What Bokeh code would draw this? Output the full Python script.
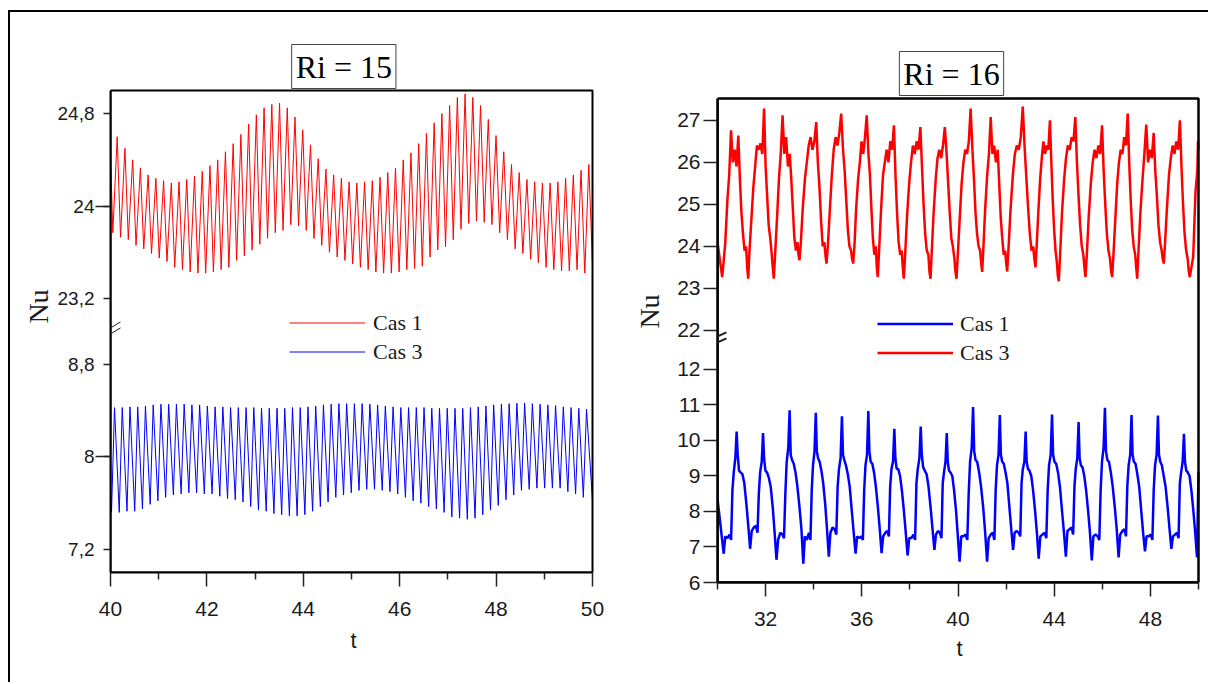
import numpy as np
from bokeh.plotting import figure
from bokeh.models import FixedTicker, Label, Legend, LegendItem, Arrow, Range1d, BoxAnnotation
from bokeh.layouts import row
from bokeh.embed import file_html
from bokeh.resources import INLINE

# ======================= DATA : Ri = 15 =======================
RI15_T_RANGE = (40, 50)
RI15_X_TICKS = [40, 42, 44, 46, 48, 50]
RI15_X_MINOR = [41, 43, 45, 47, 49]
RI15_Y_TICKS = [24.8, 24, 23.2, 8.8, 8, 7.2]
RI15_Y_LABELS = ["24,8", "24", "23,2", "8,8", "8", "7,2"]
RI15_Y_LONG = [24, 8]
RI15_LOW = (7.0, 9.09)      # visible lower segment
RI15_HIGH = (22.92, 25.0)   # visible upper segment

# Cas 1 (red): successive maxima / minima of the oscillation
ri15_cas1_peak_t = (40.139, 49.923)
ri15_cas1_peaks = [
    24.60, 24.50, 24.40, 24.33, 24.27, 24.24, 24.22, 24.20, 24.21, 24.23,
    24.26, 24.30, 24.35, 24.40, 24.47, 24.54, 24.62, 24.71, 24.79, 24.85,
    24.88, 24.89, 24.85, 24.77, 24.66, 24.53, 24.41, 24.32, 24.27, 24.24,
    24.21, 24.20, 24.21, 24.22, 24.25, 24.29, 24.33, 24.40, 24.46, 24.54,
    24.63, 24.72, 24.80, 24.87, 24.94, 24.97, 24.94, 24.87, 24.75, 24.61,
    24.47, 24.36, 24.29, 24.23, 24.21, 24.20, 24.20, 24.21, 24.24, 24.27,
    24.31, 24.36]
ri15_cas1_trough_t = (40.048, 49.840)
ri15_cas1_troughs = [
    23.77, 23.73, 23.71, 23.66, 23.63, 23.59, 23.55, 23.52, 23.47, 23.45,
    23.43, 23.42, 23.42, 23.43, 23.45, 23.47, 23.53, 23.57, 23.62, 23.67,
    23.72, 23.77, 23.79, 23.84, 23.83, 23.79, 23.72, 23.66, 23.60, 23.56,
    23.53, 23.50, 23.47, 23.45, 23.43, 23.42, 23.42, 23.43, 23.45, 23.46,
    23.48, 23.56, 23.62, 23.65, 23.71, 23.80, 23.85, 23.87, 23.86, 23.84,
    23.77, 23.71, 23.63, 23.59, 23.54, 23.51, 23.47, 23.45, 23.44, 23.44,
    23.45, 23.42]
ri15_cas1_start_end = (24.45, 23.50)

# Cas 3 (blue)
ri15_cas3_peak_t = (40.083, 49.876)
ri15_cas3_peaks = [
    8.427, 8.427, 8.433, 8.433, 8.441, 8.450, 8.456, 8.456, 8.456, 8.456,
    8.450, 8.450, 8.441, 8.433, 8.433, 8.427, 8.427, 8.427, 8.427, 8.421,
    8.421, 8.421, 8.421, 8.427, 8.427, 8.433, 8.441, 8.450, 8.456, 8.461,
    8.461, 8.461, 8.461, 8.456, 8.450, 8.441, 8.433,
    8.427, 8.427, 8.427, 8.427, 8.421, 8.421, 8.421, 8.421, 8.421, 8.427,
    8.433, 8.441, 8.450, 8.456, 8.461, 8.464, 8.467, 8.461, 8.456, 8.450,
    8.444, 8.433, 8.427, 8.421, 8.413]
ri15_cas3_trough_t = (40.021, 49.810)
ri15_cas3_troughs = [
    7.52, 7.52, 7.53, 7.53, 7.55, 7.59, 7.62, 7.65, 7.67, 7.68,
    7.69, 7.69, 7.68, 7.68, 7.66, 7.64, 7.63, 7.61, 7.57, 7.54,
    7.53, 7.51, 7.50, 7.49, 7.49, 7.50, 7.53, 7.57, 7.61, 7.65,
    7.67, 7.69, 7.71, 7.72, 7.72, 7.71, 7.70, 7.68,
    7.65, 7.62, 7.60, 7.57, 7.55, 7.52, 7.48, 7.47, 7.46, 7.47,
    7.50, 7.54, 7.58, 7.63, 7.67, 7.71, 7.72, 7.73, 7.73, 7.73,
    7.73, 7.70, 7.68, 7.65]
ri15_cas3_start_end = (7.70, 7.62)

# ======================= DATA : Ri = 16 =======================
RI16_T_RANGE = (30, 50)
RI16_X_TICKS = [32, 36, 40, 44, 48]
RI16_X_MINOR = [30, 34, 38, 42, 46, 50]
RI16_Y_TICKS = [27, 26, 25, 24, 23, 22, 12, 11, 10, 9, 8, 7, 6]
RI16_LOW = (6.0, 12.96)
RI16_HIGH = (21.88, 27.52)
RI16_HIGH_STRETCH = 42.0 / 35.5   # upper segment is drawn with a larger unit

# Cas 3 (red, upper): minima times, per-cycle values at fixed phases
ri16_cas3_head = [(30.0, 24.1)]
ri16_cas3_trough_t = [30.195, 31.277, 32.341, 33.410, 34.532, 35.642, 36.665,
                      37.747, 38.857, 39.938, 41.006, 42.046, 43.222, 44.191,
                      45.301, 46.412, 47.451, 48.557, 49.638]
ri16_cas3_phase = [0, .05, .12, .20, .27, .34, .41, .48, .55, .62, .68, .74, .80, .86, .92, .96]
ri16_cas3_cycles = [
    [23.27, 23.6, 24.1, 25.1, 25.7, 26.76, 26.0, 26.3, 25.9, 26.64, 25.6, 24.8, 24.3, 23.9, 24.0, 23.5],
    [23.23, 23.9, 24.6, 25.4, 25.9, 26.4, 26.3, 26.45, 26.2, 27.28, 25.9, 25.2, 24.5, 24.2, 23.8, 23.5],
    [23.23, 23.8, 24.6, 25.6, 26.2, 27.12, 26.2, 26.6, 25.9, 26.2, 25.6, 24.9, 24.2, 23.9, 24.1, 23.8],
    [23.67, 24.1, 24.9, 25.6, 26.0, 26.4, 26.6, 26.3, 26.5, 26.96, 26.0, 25.4, 24.6, 24.0, 24.1, 23.8],
    [23.59, 24.0, 24.8, 25.7, 26.3, 26.6, 26.4, 26.7, 27.16, 26.3, 25.8, 25.1, 24.4, 24.0, 23.9, 23.7],
    [23.59, 24.0, 24.9, 25.6, 26.0, 26.5, 26.2, 26.6, 27.12, 26.2, 25.7, 24.9, 24.2, 23.8, 24.0, 23.5],
    [23.27, 23.9, 24.8, 25.7, 26.0, 26.3, 26.0, 26.5, 26.3, 26.88, 25.7, 24.8, 24.1, 23.8, 23.9, 23.5],
    [23.23, 23.8, 24.7, 25.5, 26.0, 26.4, 26.2, 26.5, 26.3, 26.84, 25.9, 25.0, 24.3, 23.9, 23.8, 23.4],
    [23.23, 23.9, 24.8, 25.6, 26.1, 26.3, 26.1, 26.4, 26.84, 26.2, 25.5, 24.8, 24.2, 24.0, 23.7, 23.4],
    [23.23, 23.8, 24.6, 25.5, 26.0, 26.3, 26.2, 26.5, 27.28, 26.3, 25.6, 24.8, 24.3, 24.0, 23.9, 23.6],
    [23.39, 24.0, 24.9, 25.7, 26.2, 27.08, 26.2, 26.4, 26.0, 26.3, 25.5, 24.7, 24.2, 23.8, 23.9, 23.6],
    [23.40, 24.0, 24.9, 25.7, 26.2, 26.4, 26.3, 26.6, 27.33, 26.3, 25.6, 24.9, 24.3, 23.9, 24.0, 23.7],
    [23.50, 24.0, 24.8, 25.6, 26.1, 26.5, 26.2, 26.4, 26.3, 27.0, 26.0, 25.1, 24.4, 23.9, 23.6, 23.3],
    [23.17, 23.8, 24.8, 25.6, 26.1, 26.4, 26.3, 26.6, 26.5, 27.08, 26.0, 25.2, 24.5, 24.0, 23.8, 23.5],
    [23.27, 23.8, 24.7, 25.5, 26.0, 26.3, 26.1, 26.4, 26.2, 26.88, 25.8, 25.0, 24.3, 23.9, 23.7, 23.4],
    [23.27, 23.8, 24.6, 25.5, 26.0, 26.3, 26.2, 26.6, 26.4, 27.16, 26.0, 25.1, 24.4, 24.0, 23.8, 23.5],
    [23.23, 23.9, 24.8, 25.6, 26.2, 26.9, 26.0, 26.3, 26.1, 26.7, 25.8, 25.2, 24.5, 24.1, 23.9, 23.7],
    [23.59, 24.1, 24.9, 25.7, 26.1, 26.4, 26.2, 26.5, 26.3, 27.0, 25.9, 25.0, 24.3, 23.9, 23.7, 23.4],
]
ri16_cas3_last_trough = 23.27
ri16_cas3_tail = [(49.78, 23.75), (49.875, 25.3), (49.95, 25.8), (49.98, 26.5), (50.0, 26.3)]

# Cas 1 (blue, lower)
ri16_cas1_head = [(30.0, 8.36)]
ri16_cas1_trough_t = [30.258, 31.356, 32.453, 33.568, 34.628, 35.742, 36.823,
                      37.904, 39.019, 40.067, 41.210, 42.291, 43.356, 44.486,
                      45.563, 46.678, 47.775, 48.873, 49.938]
ri16_cas1_phase = [0, .06, .14, .22, .28, .33, .38, .44, .49, .53, .58, .64, .71, .78, .86, .93]
ri16_cas1_cycles = [
    [6.81, 7.30, 7.25, 7.35, 7.20, 8.6, 9.1, 9.5, 10.25, 9.6, 9.15, 9.10, 9.05, 8.8, 8.2, 7.6],
    [6.95, 7.45, 7.55, 7.60, 7.40, 8.5, 9.1, 9.4, 10.21, 9.5, 9.15, 9.10, 8.95, 8.7, 8.1, 7.4],
    [6.64, 7.20, 7.40, 7.35, 7.25, 8.5, 9.4, 9.8, 10.85, 9.6, 9.45, 9.35, 9.10, 8.7, 8.1, 7.5],
    [6.53, 7.30, 7.20, 7.40, 7.20, 8.6, 9.3, 9.7, 10.78, 9.7, 9.50, 9.40, 9.15, 8.8, 8.2, 7.5],
    [6.73, 7.40, 7.55, 7.50, 7.35, 8.7, 9.2, 9.5, 10.68, 9.6, 9.45, 9.30, 9.05, 8.7, 8.0, 7.4],
    [6.81, 7.30, 7.25, 7.30, 7.20, 8.6, 9.3, 9.6, 10.83, 9.7, 9.40, 9.35, 9.10, 8.7, 8.1, 7.5],
    [6.83, 7.30, 7.40, 7.45, 7.30, 8.7, 9.2, 9.4, 10.33, 9.5, 9.20, 9.20, 9.00, 8.6, 8.0, 7.4],
    [6.76, 7.25, 7.25, 7.35, 7.20, 8.8, 9.2, 9.5, 10.39, 9.6, 9.25, 9.15, 9.05, 8.7, 8.1, 7.5],
    [6.92, 7.35, 7.45, 7.40, 7.25, 8.8, 9.1, 9.4, 10.21, 9.4, 9.15, 9.10, 9.00, 8.6, 8.0, 7.3],
    [6.59, 7.30, 7.30, 7.35, 7.20, 8.5, 9.4, 9.8, 10.94, 9.7, 9.45, 9.40, 9.10, 8.7, 8.1, 7.4],
    [6.59, 7.25, 7.35, 7.40, 7.20, 8.6, 9.3, 9.6, 10.72, 9.6, 9.40, 9.35, 9.10, 8.8, 8.1, 7.5],
    [6.92, 7.40, 7.45, 7.40, 7.30, 8.8, 9.2, 9.4, 10.25, 9.4, 9.20, 9.15, 9.00, 8.6, 8.0, 7.4],
    [6.67, 7.30, 7.35, 7.40, 7.25, 8.6, 9.3, 9.6, 10.73, 9.6, 9.40, 9.35, 9.10, 8.7, 8.0, 7.4],
    [6.73, 7.45, 7.50, 7.55, 7.35, 8.7, 9.2, 9.5, 10.52, 9.5, 9.30, 9.25, 9.00, 8.6, 8.0, 7.4],
    [6.62, 7.30, 7.35, 7.30, 7.20, 8.6, 9.4, 9.8, 10.92, 9.7, 9.45, 9.40, 9.10, 8.7, 8.1, 7.5],
    [6.71, 7.35, 7.45, 7.50, 7.30, 8.7, 9.3, 9.6, 10.72, 9.6, 9.40, 9.35, 9.05, 8.7, 8.0, 7.4],
    [6.88, 7.30, 7.30, 7.35, 7.20, 8.6, 9.3, 9.6, 10.70, 9.6, 9.40, 9.30, 9.00, 8.7, 8.1, 7.5],
    [6.95, 7.30, 7.35, 7.40, 7.25, 8.8, 9.1, 9.4, 10.19, 9.4, 9.15, 9.10, 9.00, 8.6, 8.0, 7.4],
]
ri16_cas1_last_trough = 6.71
ri16_cas1_tail = [(50.0, 9.1)]

LEGEND_LABELS = ["Cas 1", "Cas 3"]
TITLES = ["Ri = 15", "Ri = 16"]

# ======================= helpers =======================
SANS = "Liberation Sans"
SERIF = "Liberation Serif"
INK = "#1a1a1a"


def tr15(y):
    y = np.asarray(y, dtype=float)
    return np.where(y > 15, y - RI15_HIGH[0] + RI15_LOW[1], y)


def tr16(y):
    y = np.asarray(y, dtype=float)
    return np.where(y > 15, RI16_LOW[1] + (y - RI16_HIGH[0]) * RI16_HIGH_STRETCH, y)


def zigzag(t_range, pk_t, pk, tr_t, tr, se):
    tp = np.linspace(pk_t[0], pk_t[1], len(pk))
    tt = np.linspace(tr_t[0], tr_t[1], len(tr))
    t = np.concatenate([[t_range[0]], tt, tp, [t_range[1]]])
    v = np.concatenate([[se[0]], tr, pk, [se[1]]])
    o = np.argsort(t, kind="stable")
    return t[o], v[o]


def cyclic(head, trough_t, phases, rows, last_trough, tail):
    t = [h[0] for h in head]
    v = [h[1] for h in head]
    for i, r in enumerate(rows):
        t0, t1 = trough_t[i], trough_t[i + 1]
        for ph, val in zip(phases, r):
            t.append(t0 + ph * (t1 - t0))
            v.append(val)
    t.append(trough_t[-1])
    v.append(last_trough)
    t += [p[0] for p in tail]
    v += [p[1] for p in tail]
    return np.array(t), np.array(v)


def style_axes(p, lw):
    p.grid.visible = False
    p.outline_line_color = None
    p.background_fill_color = "white"
    p.border_fill_color = "white"
    for ax in (p.xaxis[0], p.yaxis[0]):
        ax.axis_line_width = lw
        ax.axis_line_color = "black"
        ax.major_tick_in = 0
        ax.minor_tick_in = 0
        ax.major_tick_line_width = 1.5
        ax.minor_tick_line_width = 1.5
        ax.major_tick_line_color = "#222222"
        ax.minor_tick_line_color = "#222222"
        ax.major_label_text_font = SANS
        ax.major_label_text_color = INK
        ax.axis_label_text_font_style = "normal"
        ax.axis_label_text_color = INK


def add_break(p, x0, yb, sx, sy, dx, dy, gap, lw):
    for off in (-gap / 2.0, gap / 2.0):
        p.add_layout(Arrow(end=None, start=None,
                           x_start=x0 - dx / sx, y_start=yb + (-dy + off) / sy,
                           x_end=x0 + dx / sx, y_end=yb + (dy + off) / sy,
                           line_color="#222222", line_width=lw))


TOP_PAD = 28          # frame starts above the plot box so that the boxed title fits inside

# ======================= left panel =======================
P1_W, P1_H, P1_LB, P1_RB, P1_BB = 610, 660, 100, 24, 100
F1_W = P1_W - P1_LB - P1_RB            # 486 (plot box 482 + 4 px spare on the right)
F1_H = P1_H - TOP_PAD - P1_BB          # 532 (plot box 482 + 50 px for the title)
y15_lo, y15_hi = RI15_LOW[0], float(tr15(RI15_HIGH[1]))
sx1 = 482.0 / (RI15_T_RANGE[1] - RI15_T_RANGE[0])
sy1 = 482.0 / (y15_hi - y15_lo)
p1 = figure(width=P1_W, height=P1_H, output_backend="svg", toolbar_location=None,
            x_range=Range1d(RI15_T_RANGE[0], RI15_T_RANGE[0] + F1_W / sx1),
            y_range=Range1d(y15_lo, y15_lo + F1_H / sy1),
            min_border_left=P1_LB, min_border_right=P1_RB,
            min_border_top=TOP_PAD, min_border_bottom=P1_BB)
style_axes(p1, 2)
p1.add_layout(BoxAnnotation(left=RI15_T_RANGE[0], right=RI15_T_RANGE[1], bottom=y15_lo, top=y15_hi,
                            fill_alpha=0, line_color="black", line_alpha=1, line_width=2))

t1, v1 = zigzag(RI15_T_RANGE, ri15_cas1_peak_t, ri15_cas1_peaks,
                ri15_cas1_trough_t, ri15_cas1_troughs, ri15_cas1_start_end)
t3, v3 = zigzag(RI15_T_RANGE, ri15_cas3_peak_t, ri15_cas3_peaks,
                ri15_cas3_trough_t, ri15_cas3_troughs, ri15_cas3_start_end)
r15a = p1.line(t1, tr15(v1), line_color="#ff0000", line_width=1)
r15b = p1.line(t3, tr15(v3), line_color="#0000ff", line_width=1)

xa = p1.xaxis[0]
xa.bounds = RI15_T_RANGE
xa.ticker = FixedTicker(ticks=RI15_X_TICKS, minor_ticks=RI15_X_MINOR)
xa.major_tick_out = 14
xa.minor_tick_out = 7
xa.major_label_text_font_size = "21px"
xa.major_label_standoff = 15
xa.axis_label = "t"
xa.axis_label_text_font = SANS
xa.axis_label_text_font_size = "22px"
xa.axis_label_standoff = 9

ya = p1.yaxis[0]
ya.bounds = (y15_lo, y15_hi)
yt1 = [float(tr15(v)) for v in RI15_Y_TICKS]
ya.ticker = FixedTicker(ticks=yt1, minor_ticks=[float(tr15(v)) for v in RI15_Y_LONG])
ya.major_label_overrides = {k: s for k, s in zip(yt1, RI15_Y_LABELS)}
ya.major_tick_out = 7
ya.minor_tick_out = 15
ya.major_label_text_font_size = "19px"
ya.major_label_standoff = 1
ya.axis_label = "Nu"
ya.axis_label_text_font = SERIF
ya.axis_label_text_font_size = "28px"
ya.axis_label_standoff = 1

add_break(p1, RI15_T_RANGE[0], RI15_LOW[1], sx1, sy1, 10, 6, 6, 1)

p1.add_layout(Label(x=44.84, y=y15_hi, y_offset=2, text=TITLES[0],
                    text_align="center", text_baseline="bottom", text_font=SERIF,
                    text_font_size="32px", text_color="black", padding=4,
                    border_line_color="#444444", border_line_width=1,
                    background_fill_color="white"))

leg1 = Legend(items=[LegendItem(label=LEGEND_LABELS[0], renderers=[r15a]),
                     LegendItem(label=LEGEND_LABELS[1], renderers=[r15b])],
              location=(179, 206), orientation="vertical",
              label_text_font=SERIF, label_text_font_size="22px", label_text_color=INK,
              glyph_width=76, glyph_height=29, label_height=29, spacing=0,
              padding=0, margin=0, label_standoff=8,
              border_line_color=None, background_fill_alpha=0)
p1.add_layout(leg1)

# ======================= right panel =======================
P2_W, P2_H, P2_LB, P2_RB, P2_BB = 588, 670, 97, 7, 100
F2_W = P2_W - P2_LB - P2_RB            # 484 (plot box 481 + 3 px spare)
F2_H = P2_H - TOP_PAD - P2_BB          # 542 (plot box 484 + 58 px for the title)
y16_lo, y16_hi = RI16_LOW[0], float(tr16(RI16_HIGH[1]))
sx2 = 481.0 / (RI16_T_RANGE[1] - RI16_T_RANGE[0])
sy2 = 484.0 / (y16_hi - y16_lo)
p2 = figure(width=P2_W, height=P2_H, output_backend="svg", toolbar_location=None,
            x_range=Range1d(RI16_T_RANGE[0], RI16_T_RANGE[0] + F2_W / sx2),
            y_range=Range1d(y16_lo, y16_lo + F2_H / sy2),
            min_border_left=P2_LB, min_border_right=P2_RB,
            min_border_top=TOP_PAD, min_border_bottom=P2_BB)
style_axes(p2, 2.5)
p2.add_layout(BoxAnnotation(left=RI16_T_RANGE[0], right=RI16_T_RANGE[1], bottom=y16_lo, top=y16_hi,
                            fill_alpha=0, line_color="black", line_alpha=1, line_width=2.5))

tb, vb = cyclic(ri16_cas1_head, ri16_cas1_trough_t, ri16_cas1_phase, ri16_cas1_cycles,
                ri16_cas1_last_trough, ri16_cas1_tail)
trd, vrd = cyclic(ri16_cas3_head, ri16_cas3_trough_t, ri16_cas3_phase, ri16_cas3_cycles,
                  ri16_cas3_last_trough, ri16_cas3_tail)
r16a = p2.line(tb, tr16(vb), line_color="#0000ff", line_width=2.5)
r16b = p2.line(trd, tr16(vrd), line_color="#ff0000", line_width=2.5)

xb = p2.xaxis[0]
xb.bounds = RI16_T_RANGE
xb.ticker = FixedTicker(ticks=RI16_X_TICKS, minor_ticks=RI16_X_MINOR)
xb.major_tick_out = 14
xb.minor_tick_out = 7
xb.major_label_text_font_size = "21px"
xb.major_label_standoff = 15
xb.axis_label = "t"
xb.axis_label_text_font = SANS
xb.axis_label_text_font_size = "22px"
xb.axis_label_standoff = 7

yb = p2.yaxis[0]
yb.bounds = (y16_lo, y16_hi)
yt2 = [round(float(tr16(v)), 6) for v in RI16_Y_TICKS]
yb.ticker = FixedTicker(ticks=yt2, minor_ticks=[])
yb.major_label_overrides = {k: str(v) for k, v in zip(yt2, RI16_Y_TICKS)}
yb.major_tick_out = 14
yb.major_label_text_font_size = "21px"
yb.major_label_standoff = 3
yb.axis_label = "Nu"
yb.axis_label_text_font = SERIF
yb.axis_label_text_font_size = "28px"
yb.axis_label_standoff = 9

add_break(p2, RI16_T_RANGE[0], RI16_LOW[1] - 4 / sy2, sx2, sy2, 9, 4, 6, 2)

p2.add_layout(Label(x=39.73, y=y16_hi, y_offset=3, text=TITLES[1],
                    text_align="center", text_baseline="bottom", text_font=SERIF,
                    text_font_size="32px", text_color="black", padding=4,
                    border_line_color="#444444", border_line_width=1,
                    background_fill_color="white"))

leg2 = Legend(items=[LegendItem(label=LEGEND_LABELS[0], renderers=[r16a]),
                     LegendItem(label=LEGEND_LABELS[1], renderers=[r16b])],
              location=(160, 215), orientation="vertical",
              label_text_font=SERIF, label_text_font_size="22px", label_text_color=INK,
              glyph_width=76, glyph_height=29, label_height=29, spacing=0,
              padding=0, margin=0, label_standoff=7,
              border_line_color=None, background_fill_alpha=0)
p2.add_layout(leg2)

layout = row(p1, p2, margin=(10, 0, 0, 8),
             styles={"border-top": "2px solid black", "border-left": "2px solid black"})

open("out.html", "w").write(file_html(layout, INLINE))
